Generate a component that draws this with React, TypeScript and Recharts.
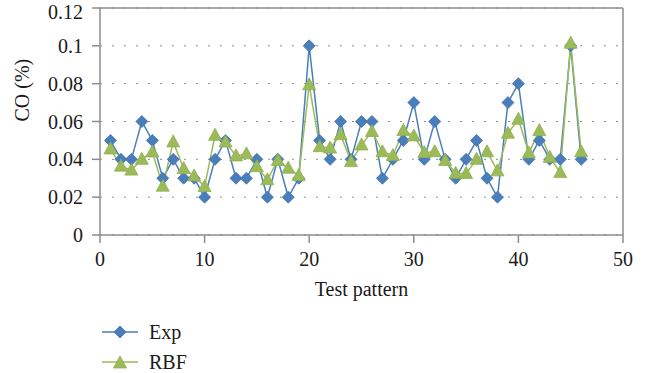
import { CartesianGrid, Label, Line, LineChart, ReferenceLine, XAxis, YAxis } from "recharts";

const patterns = [
  1, 2, 3, 4, 5, 6, 7, 8, 9, 10, 11, 12, 13, 14, 15, 16, 17, 18, 19, 20, 21, 22, 23,
  24, 25, 26, 27, 28, 29, 30, 31, 32, 33, 34, 35, 36, 37, 38, 39, 40, 41, 42, 43, 44, 45, 46,
];
const expValues = [
  0.05, 0.04, 0.04, 0.06, 0.05, 0.03, 0.04, 0.03, 0.03, 0.02, 0.04, 0.05, 0.03, 0.03, 0.04, 0.02,
  0.04, 0.02, 0.03, 0.1, 0.05, 0.04, 0.06, 0.04, 0.06, 0.06, 0.03, 0.04, 0.05, 0.07, 0.04, 0.06,
  0.04, 0.03, 0.04, 0.05, 0.03, 0.02, 0.07, 0.08, 0.04, 0.05, 0.04, 0.04, 0.1, 0.04,
];
const rbfValues = [
  0.0455, 0.0364, 0.0343, 0.04, 0.0439, 0.0258, 0.0492, 0.0351, 0.0312, 0.0256, 0.0527, 0.0492,
  0.0418, 0.0429, 0.0361, 0.0292, 0.0394, 0.0353, 0.0314, 0.0794, 0.0467, 0.046, 0.053, 0.0388,
  0.0476, 0.0547, 0.044, 0.042, 0.0552, 0.0524, 0.0436, 0.044, 0.0394, 0.0326, 0.0325, 0.04,
  0.044, 0.0339, 0.0538, 0.0612, 0.0434, 0.0552, 0.0411, 0.033, 0.1014, 0.044,
];
const xTicks = [0, 10, 20, 30, 40, 50];
const yTicks = [0, 0.02, 0.04, 0.06, 0.08, 0.1, 0.12];

const data = patterns.map((p, i) => ({ pattern: p, exp: expValues[i], rbf: rbfValues[i] }));

const BLUE = "#4a7ebb";
const GREEN = "#9bbb59";
const AXIS = "#8c8c8c";
const TEXT = "#1a1a1a";
const FONT = "'Liberation Serif', 'DejaVu Serif', serif";

function Diamond({ cx, cy }: { cx?: number; cy?: number }) {
  if (cx == null || cy == null) return null;
  return (
    <polygon
      points={`${cx},${cy - 6} ${cx + 6},${cy} ${cx},${cy + 6} ${cx - 6},${cy}`}
      fill={BLUE}
      stroke="#3f72ad"
      strokeWidth={0.8}
    />
  );
}

function Triangle({ cx, cy }: { cx?: number; cy?: number }) {
  if (cx == null || cy == null) return null;
  return (
    <polygon
      points={`${cx},${cy - 7} ${cx + 6.5},${cy + 5} ${cx - 6.5},${cy + 5}`}
      fill={GREEN}
      stroke="#8fae50"
      strokeWidth={0.8}
    />
  );
}

export default function App() {
  return (
    <div style={{ position: "absolute", left: 0, top: 0, width: 648, height: 373, background: "#fff", fontFamily: FONT }}>
      <LineChart width={648} height={373} data={data} margin={{ top: 8, right: 25, left: 0, bottom: 68 }}>
        <CartesianGrid horizontal vertical={false} stroke={AXIS} strokeDasharray="2 10" />
        <XAxis
          dataKey="pattern"
          type="number"
          domain={[0, 50]}
          ticks={xTicks}
          height={70}
          tickSize={8}
          tickMargin={9}
          stroke={AXIS}
          strokeWidth={1.5}
          tick={{ fill: TEXT, fontSize: 20, fontFamily: FONT }}
        >
          <Label value="Test pattern" position="insideTop" offset={47} fill={TEXT} fontSize={20} fontFamily={FONT} />
        </XAxis>
        <YAxis
          type="number"
          domain={[0, 0.12]}
          ticks={yTicks}
          width={100}
          tickSize={8}
          tickMargin={9}
          stroke={AXIS}
          strokeWidth={1.5}
          tick={{ fill: TEXT, fontSize: 20, fontFamily: FONT }}
          tickFormatter={(v: number) => String(v)}
        >
          <Label value="CO (%)" angle={-90} position="insideLeft" offset={22} fill={TEXT} fontSize={20} fontFamily={FONT} />
        </YAxis>
        <ReferenceLine x={50} stroke={AXIS} strokeWidth={1.5} />
        <ReferenceLine y={0.12} stroke={AXIS} strokeWidth={1.5} />
        <Line
          dataKey="exp"
          stroke={BLUE}
          strokeWidth={1.5}
          dot={<Diamond />}
          activeDot={false}
          isAnimationActive={false}
        />
        <Line
          dataKey="rbf"
          stroke={GREEN}
          strokeWidth={1.5}
          dot={<Triangle />}
          activeDot={false}
          isAnimationActive={false}
        />
      </LineChart>
      <svg width={200} height={60} style={{ position: "absolute", left: 100, top: 315 }}>
        <line x1={2} y1={17} x2={38} y2={17} stroke={BLUE} strokeWidth={1.5} />
        <Diamond cx={20} cy={17} />
        <text x={49} y={17} dominantBaseline="central" fontSize={20} fontFamily={FONT} fill={TEXT}>
          Exp
        </text>
        <line x1={2} y1={47} x2={38} y2={47} stroke={GREEN} strokeWidth={1.5} />
        <Triangle cx={20} cy={48} />
        <text x={49} y={47} dominantBaseline="central" fontSize={20} fontFamily={FONT} fill={TEXT}>
          RBF
        </text>
      </svg>
    </div>
  );
}
